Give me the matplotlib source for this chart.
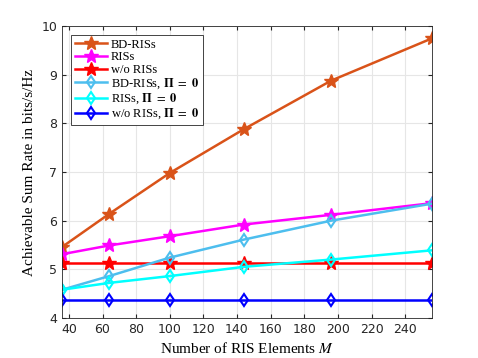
import numpy as np
import matplotlib
matplotlib.use("Agg")
import matplotlib.pyplot as plt

plt.rcParams["mathtext.fontset"] = "stix"

M = [36, 64, 100, 144, 196, 256]
bd_ris = [5.46, 6.14, 6.98, 7.88, 8.88, 9.75]
ris = [5.31, 5.49, 5.68, 5.92, 6.12, 6.36]
wo_ris = [5.13, 5.13, 5.13, 5.13, 5.13, 5.13]
bd_ris_p0 = [4.58, 4.86, 5.24, 5.61, 6.00, 6.35]
ris_p0 = [4.58, 4.72, 4.86, 5.05, 5.20, 5.39]
wo_ris_p0 = [4.37, 4.37, 4.37, 4.37, 4.37, 4.37]

p0 = r"$\mathbf{\Pi}\ =\ \mathbf{0}$"
labels = ["BD-RISs", "RISs", "w/o RISs",
          "BD-RISs, " + p0, "RISs, " + p0, "w/o RISs, " + p0]
series = [bd_ris, ris, wo_ris, bd_ris_p0, ris_p0, wo_ris_p0]
colors = ["#d95319", "#ff00ff", "#ff0000", "#4dbeee", "#00ffff", "#0000ff"]
markers = ["*", "*", "*", "d", "d", "d"]

fig = plt.figure(figsize=(4.78, 3.58), dpi=100)
ax = fig.add_axes([0.130, 0.112, 0.774, 0.815])

for y, lab, c, m in zip(series, labels, colors, markers):
    if m == "*":
        ax.plot(M, y, color=c, marker=m, markersize=10, linewidth=1.8, label=lab)
    else:
        ax.plot(M, y, color=c, marker=m, markersize=6, markerfacecolor="none",
                markeredgewidth=1.5, linewidth=1.8, label=lab)

ax.set_xlim(36, 256)
ax.set_ylim(4, 10)
ax.set_xticks(range(40, 241, 20))
ax.set_yticks(range(4, 11))
ax.grid(True, color="#e6e6e6", linewidth=0.8)
ax.set_axisbelow(True)
ax.tick_params(direction="in", labelsize=9, colors="#262626", top=True, right=True, length=3)
for s in ax.spines.values():
    s.set_color("#262626")
    s.set_linewidth(0.6)

ax.set_xlabel(r"Number of RIS Elements $M$", family="Liberation Serif", fontsize=11)
ax.set_ylabel("Achievable Sum Rate in bits/s/Hz", family="Liberation Serif", fontsize=11)

leg = ax.legend(loc="upper left", prop={"family": "Liberation Serif", "size": 9},
                fancybox=False, edgecolor="#262626", framealpha=1,
                handlelength=2.6, borderpad=0.3, labelspacing=0.05,
                handletextpad=0.3, borderaxespad=0.7)
leg.get_frame().set_linewidth(0.6)

fig.savefig("out.png", dpi=100)
